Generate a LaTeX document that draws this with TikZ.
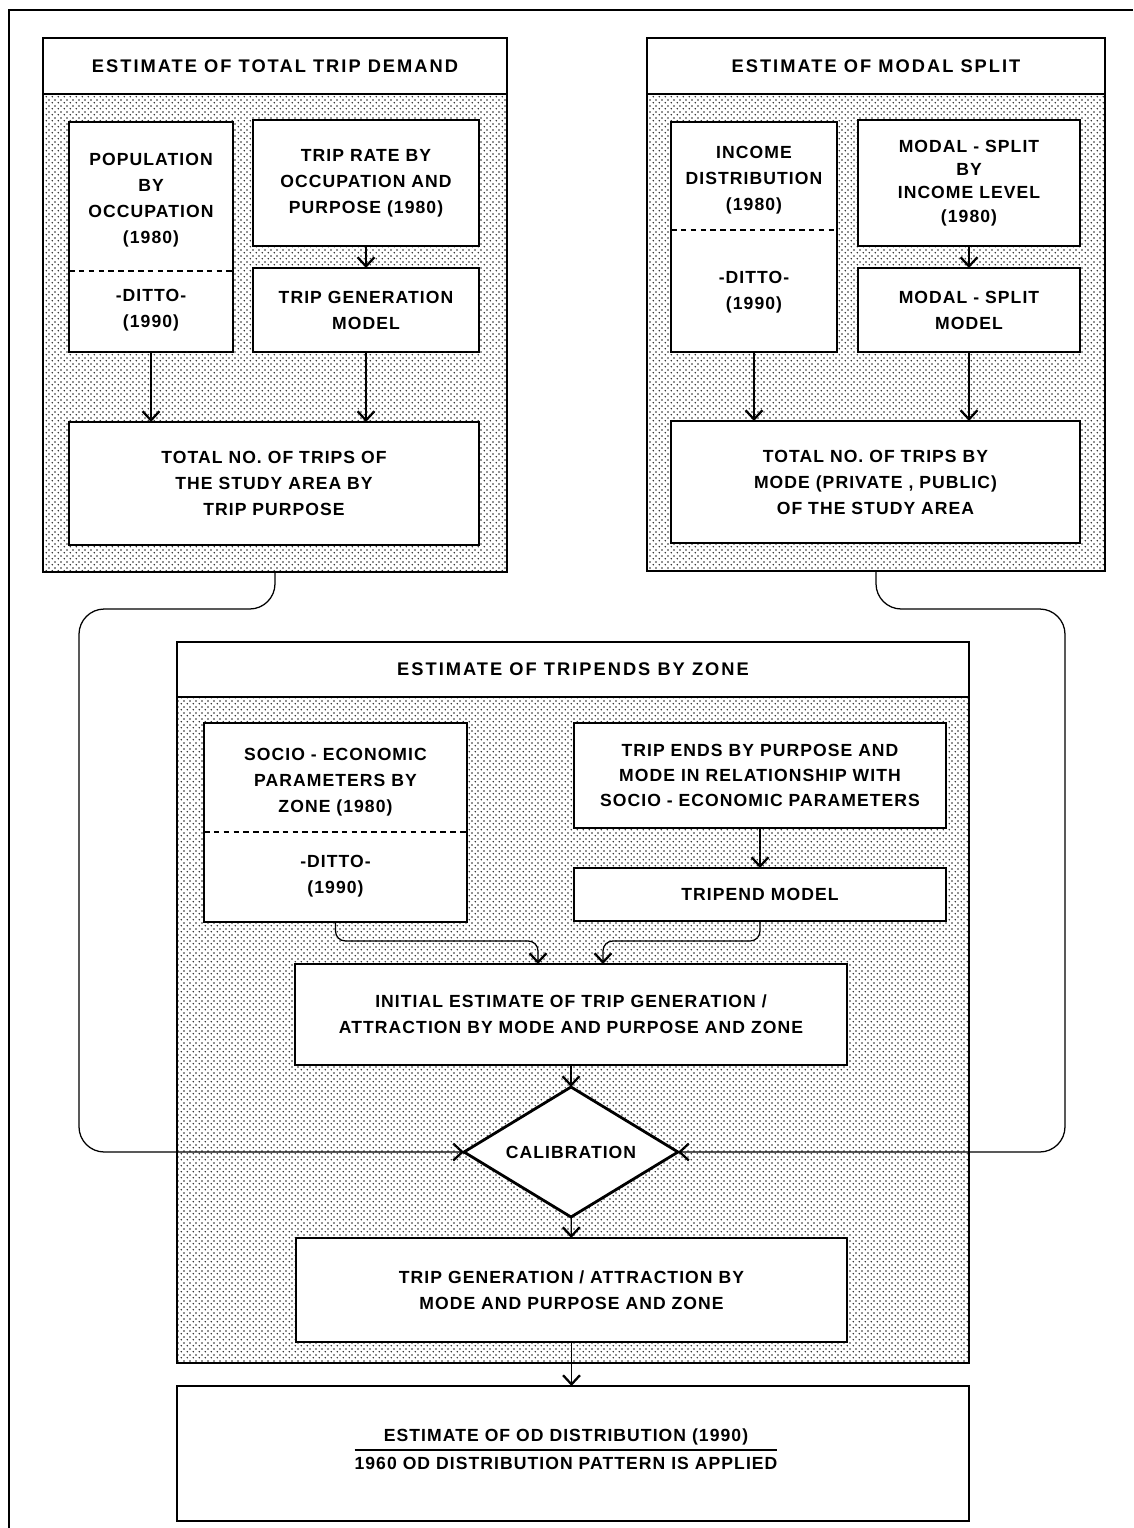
\documentclass[tikz,border=0pt]{standalone}
\usepackage{fontspec}
\setmainfont{Liberation Sans}[LetterSpace=6]
\usetikzlibrary{arrows.meta,patterns,shapes.geometric,calc}
\newcommand{\px}{0.025cm}
\newcommand{\ditto}{-DITTO-\\(1990)}
\setlength{\arrayrulewidth}{1.1pt}
\pgfdeclarepatternformonly{screen dots}{\pgfqpoint{0pt}{0pt}}{\pgfqpoint{4pt}{4pt}}{\pgfqpoint{4pt}{4pt}}{
	\pgfpathcircle{\pgfqpoint{1pt}{1pt}}{0.65pt}
	\pgfpathcircle{\pgfqpoint{3pt}{3pt}}{0.65pt}
	\pgfusepath{fill}
}

\tikzset{
	panel/.style={draw, line width=1.4pt, pattern=screen dots, pattern color=black!85, inner sep=0pt, outer sep=0pt},
	header/.style={draw, line width=1.4pt, fill=white, inner sep=0pt, outer sep=0pt, font=\bfseries\fontsize{13}{16}\selectfont\addfontfeature{LetterSpace=11}},
	box/.style={draw, line width=2pt, fill=white, inner sep=0pt, outer sep=0pt, align=center, font=\bfseries\fontsize{12.5}{18.5}\selectfont},
	txt/.style={align=center, inner sep=0pt, font=\bfseries\fontsize{12.5}{18.5}\selectfont},
	split/.style={line width=1pt, dash pattern=on 4pt off 3pt},
	conn/.style={line width=0.9pt},
	arr/.style={conn, -{Straight Barb[length=6.5pt,width=12pt,line width=1.6pt]}},
}

\begin{document}
\begin{tikzpicture}[x=\px,y=-\px]
	\useasboundingbox (0,0) rectangle (1133,1528);
	\draw[line width=1.2pt] (9,1528) -- (9,10) -- (1133,10);

	% total trip demand
	\node[panel, minimum width=464*\px, minimum height=534*\px] (pnlA) at (275,305) {};
	\node[header, minimum width=464*\px, minimum height=56*\px] (hdrA) at (275,66) {ESTIMATE OF TOTAL TRIP DEMAND};
	\node[box, minimum width=164*\px, minimum height=230*\px] (popA) at (151,237) {};
	\node[txt] (popA1) at (151,200) {POPULATION\\BY\\OCCUPATION\\(1980)};
	\node[txt] (popA2) at (151,310) {\ditto};
	\draw[split] ($(popA.west)+(0,34)$) -- ($(popA.east)+(0,34)$);
	\node[box, minimum width=226*\px, minimum height=126*\px] (rateA) at (366,183) {TRIP RATE BY\\OCCUPATION AND\\PURPOSE (1980)};
	\node[box, minimum width=226*\px, minimum height=84*\px] (genA) at (366,310) {TRIP GENERATION\\MODEL};
	\node[box, minimum width=410*\px, minimum height=123*\px] (totA) at (274,483.5) {TOTAL NO. OF TRIPS OF\\THE STUDY AREA BY\\TRIP PURPOSE};

	% modal split
	\node[panel, minimum width=458*\px, minimum height=533*\px] (pnlB) at (876,304.5) {};
	\node[header, minimum width=458*\px, minimum height=56*\px] (hdrB) at (876,66) {ESTIMATE OF MODAL SPLIT};
	\node[box, minimum width=166*\px, minimum height=230*\px] (incB) at (754,237) {};
	\node[txt] (incB1) at (754,180) {INCOME\\DISTRIBUTION\\(1980)};
	\node[txt] (incB2) at (754,292) {\ditto};
	\draw[split] ($(incB.west)+(0,-7)$) -- ($(incB.east)+(0,-7)$);
	\node[box, minimum width=222*\px, minimum height=126*\px, font=\bfseries\fontsize{12.5}{16.5}\selectfont] (msB) at (969,183) {MODAL - SPLIT\\BY\\INCOME LEVEL\\(1980)};
	\node[box, minimum width=222*\px, minimum height=84*\px] (mmB) at (969,310) {MODAL - SPLIT\\MODEL};
	\node[box, minimum width=409*\px, minimum height=122*\px] (totB) at (875.5,482) {TOTAL NO. OF TRIPS BY\\MODE (PRIVATE , PUBLIC)\\OF THE STUDY AREA};

	% tripends by zone
	\node[panel, minimum width=792*\px, minimum height=721*\px] (pnlC) at (573,1002.5) {};
	\node[header, minimum width=792*\px, minimum height=55*\px] (hdrC) at (573,669.5) {ESTIMATE OF TRIPENDS BY ZONE};
	\node[box, minimum width=263*\px, minimum height=199*\px] (socC) at (335.5,822.5) {};
	\node[txt] (socC1) at (335.5,782) {SOCIO - ECONOMIC\\PARAMETERS BY\\ZONE (1980)};
	\node[txt] (socC2) at (335.5,876) {\ditto};
	\draw[split] ($(socC.west)+(0,9.5)$) -- ($(socC.east)+(0,9.5)$);
	\node[box, minimum width=372*\px, minimum height=105*\px, font=\bfseries\fontsize{12.5}{17.5}\selectfont] (endC) at (760,775.5) {TRIP ENDS BY PURPOSE AND\\MODE IN RELATIONSHIP WITH\\SOCIO - ECONOMIC PARAMETERS};
	\node[box, minimum width=372*\px, minimum height=53*\px] (tmC) at (760,894.5) {TRIPEND MODEL};
	\node[box, minimum width=552*\px, minimum height=101*\px] (iniC) at (571,1014.5) {INITIAL ESTIMATE OF TRIP GENERATION /\\ATTRACTION BY MODE AND PURPOSE AND ZONE};
	\node[box, diamond, aspect=1.6, minimum width=214*\px, minimum height=130*\px] (calC) at (571,1152) {CALIBRATION};
	\node[box, minimum width=551*\px, minimum height=104*\px] (tgC) at (571.5,1290) {TRIP GENERATION / ATTRACTION BY\\MODE AND PURPOSE AND ZONE};

	% od distribution
	\node[box, minimum width=792*\px, minimum height=135*\px] (odD) at (573,1453.5) {};
	\node[txt] (odD1) at (566,1450) {\begin{tabular}{@{}c@{}}ESTIMATE OF OD DISTRIBUTION (1990)\\\hline 1960 OD DISTRIBUTION PATTERN IS APPLIED\end{tabular}};

	\coordinate (jL) at (538,941);
	\coordinate (jR) at (603,941);
	\coordinate (bendA) at (79,609);
	\coordinate (bendB) at (1065,609);

	\draw[arr] (rateA) -- (genA);
	\draw[arr] (popA.south) -- (popA.south |- totA.north);
	\draw[arr] (genA.south) -- (genA.south |- totA.north);
	\draw[arr] (msB) -- (mmB);
	\draw[arr] (incB.south) -- (incB.south |- totB.north);
	\draw[arr] (mmB.south) -- (mmB.south |- totB.north);
	\draw[arr] (endC) -- (tmC);
	\draw[arr, rounded corners=7] (socC.south) |- (jL) -- (jL |- iniC.north);
	\draw[arr, rounded corners=7] (tmC.south) |- (jR) -- (jR |- iniC.north);
	\draw[arr] (iniC) -- (calC);
	\draw[arr] (calC) -- (tgC);
	\draw[arr] (tgC.south) -- (tgC.south |- odD.north);
	\draw[arr, rounded corners=18] (pnlA.south) |- (bendA) |- (calC.west);
	\draw[arr, rounded corners=18] (pnlB.south) |- (bendB) |- (calC.east);
\end{tikzpicture}
\end{document}
